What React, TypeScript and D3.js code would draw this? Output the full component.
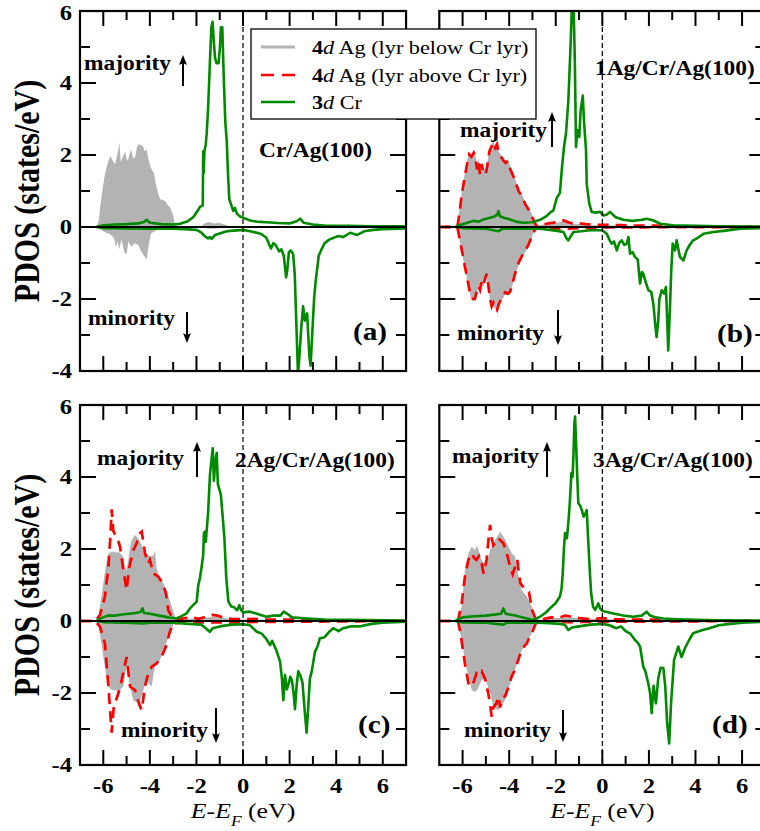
import React from "react";
import * as d3 from "d3";

// ---------------- data (E - E_F in eV, PDOS in states/eV) ----------------
const energyTickValues = [-6, -4, -2, 0, 2, 4, 6];
const dosTickValues = [-4, -2, 0, 2, 4, 6];
const systemNames = ["Cr/Ag(100)", "1Ag/Cr/Ag(100)", "2Ag/Cr/Ag(100)", "3Ag/Cr/Ag(100)"];
const panelLetters = ["(a)", "(b)", "(c)", "(d)"];
const legendSeries = ["Ag (lyr below Cr lyr)", "Ag (lyr above Cr lyr)", "Cr"];
const legendOrbitals = ["4", "4", "3"];

// Panel (a) Cr/Ag(100)
const agBelowUpA = [[-7,0],[-6.3,0],[-6.2,0.15],[-6.13,0.58],[-6.02,1.1],[-5.92,1.5],[-5.8,1.8],[-5.7,1.97],[-5.6,1.85],[-5.49,1.74],[-5.4,2.0],[-5.31,2.34],[-5.25,1.8],[-5.2,1.9],[-5.12,2.0],[-5.06,2.1],[-4.98,1.85],[-4.92,1.9],[-4.86,2.05],[-4.8,2.15],[-4.72,1.9],[-4.63,1.95],[-4.56,2.2],[-4.49,2.3],[-4.4,2.28],[-4.3,2.25],[-4.22,2.1],[-4.14,2.15],[-4.05,1.85],[-3.96,1.65],[-3.88,1.55],[-3.82,1.5],[-3.76,1.25],[-3.71,1.1],[-3.63,0.9],[-3.56,0.77],[-3.45,0.75],[-3.35,0.72],[-3.22,0.6],[-3.13,0.54],[-3.05,0.42],[-2.99,0.3],[-2.92,0.05],[-2.5,0.02],[-1.8,0.03],[-1.65,0.1],[-1.5,0.14],[-1.35,0.12],[-1.2,0.1],[-1.05,0.12],[-0.85,0.08],[-0.6,0.03],[0,0.02],[7,0]];
const agBelowDnA = [[-7,0],[-6.3,0],[-6.1,-0.08],[-5.9,-0.15],[-5.7,-0.2],[-5.55,-0.3],[-5.45,-0.55],[-5.38,-0.4],[-5.31,-0.62],[-5.22,-0.35],[-5.1,-0.7],[-5.0,-0.76],[-4.92,-0.4],[-4.8,-0.55],[-4.65,-0.45],[-4.5,-0.5],[-4.35,-0.7],[-4.25,-0.8],[-4.14,-0.9],[-4.05,-0.5],[-3.95,-0.18],[-3.7,-0.08],[-3.3,-0.04],[-2.9,0],[-1.7,0],[-1.5,-0.05],[-1.1,-0.04],[-0.8,0],[7,0]];
const crUpA = [[-6.3,0],[-6.0,0.05],[-5.5,0.07],[-5.0,0.08],[-4.5,0.1],[-4.25,0.14],[-4.14,0.2],[-4.0,0.12],[-3.5,0.08],[-3.0,0.07],[-2.7,0.09],[-2.4,0.15],[-2.13,0.28],[-1.95,0.45],[-1.85,0.56],[-1.73,0.6],[-1.71,2.1],[-1.69,1.5],[-1.66,2.1],[-1.6,2.3],[-1.56,2.6],[-1.5,3.3],[-1.42,4.6],[-1.36,5.55],[-1.31,5.7],[-1.25,5.1],[-1.2,4.7],[-1.14,4.55],[-1.05,4.55],[-0.99,5.0],[-0.95,5.55],[-0.89,5.55],[-0.83,4.2],[-0.76,2.9],[-0.7,2.4],[-0.64,1.4],[-0.59,0.77],[-0.5,0.6],[-0.42,0.45],[-0.35,0.53],[-0.27,0.38],[-0.15,0.3],[0,0.26],[0.3,0.18],[0.6,0.15],[1.0,0.13],[1.5,0.11],[2.0,0.1],[2.3,0.16],[2.45,0.23],[2.6,0.12],[3.0,0.07],[3.5,0.04],[4.5,0.03],[5.5,0.02],[7,0.02]];
const crDnA = [[-6.3,0],[-6.0,-0.03],[-5.0,-0.04],[-4.0,-0.05],[-3.0,-0.05],[-2.5,-0.06],[-2.0,-0.08],[-1.8,-0.15],[-1.65,-0.25],[-1.5,-0.32],[-1.42,-0.28],[-1.35,-0.33],[-1.2,-0.22],[-1.0,-0.18],[-0.7,-0.12],[-0.4,-0.1],[0,-0.08],[0.3,-0.12],[0.6,-0.16],[0.8,-0.2],[1.0,-0.3],[1.1,-0.45],[1.2,-0.6],[1.3,-0.45],[1.4,-0.5],[1.55,-0.68],[1.65,-0.62],[1.75,-0.8],[1.85,-1.4],[1.9,-1.2],[1.97,-0.7],[2.05,-0.65],[2.15,-0.75],[2.22,-1.3],[2.3,-2.9],[2.36,-4.1],[2.42,-3.6],[2.5,-2.8],[2.58,-2.2],[2.65,-2.6],[2.75,-2.4],[2.85,-3.6],[2.9,-3.85],[2.97,-3.0],[3.05,-2.0],[3.12,-1.5],[3.25,-0.8],[3.35,-0.65],[3.5,-0.45],[3.7,-0.35],[3.9,-0.3],[4.1,-0.25],[4.3,-0.28],[4.6,-0.16],[4.9,-0.22],[5.2,-0.12],[5.6,-0.08],[6.0,-0.06],[7,-0.04]];

// Panel (b) 1Ag/Cr/Ag(100)
const agBelowUpB = [[-7,0],[-6.24,0],[-6.14,0.5],[-6.04,0.95],[-5.93,1.4],[-5.82,1.8],[-5.72,2.08],[-5.62,2.0],[-5.52,2.1],[-5.45,2.0],[-5.38,1.7],[-5.32,1.9],[-5.25,1.55],[-5.18,1.8],[-5.1,1.6],[-5.02,1.55],[-4.95,1.75],[-4.85,2.15],[-4.75,2.3],[-4.68,2.4],[-4.6,2.25],[-4.52,2.35],[-4.45,2.1],[-4.35,2.0],[-4.25,1.9],[-4.15,1.85],[-4.05,1.88],[-3.95,1.68],[-3.85,1.5],[-3.75,1.35],[-3.6,1.08],[-3.45,0.9],[-3.3,0.68],[-3.18,0.55],[-3.05,0.4],[-2.95,0.22],[-2.85,0.05],[-2.7,0.05],[-2.4,0.08],[-2.1,0.1],[-1.85,0.13],[-1.65,0.16],[-1.5,0.13],[-1.3,0.09],[-1.0,0.08],[-0.5,0.05],[0.5,0.04],[1.5,0.03],[3,0.01],[7,0]];
const agBelowDnB = [[-7,0],[-6.24,0],[-6.12,-0.4],[-6.04,-0.68],[-5.93,-1.05],[-5.82,-1.42],[-5.72,-1.75],[-5.65,-1.97],[-5.55,-2.05],[-5.47,-2.05],[-5.4,-1.85],[-5.32,-1.7],[-5.25,-1.8],[-5.18,-1.58],[-5.1,-1.65],[-5.04,-1.5],[-4.97,-1.4],[-4.89,-1.7],[-4.82,-2.05],[-4.75,-2.25],[-4.68,-2.18],[-4.61,-2.25],[-4.52,-2.35],[-4.45,-2.2],[-4.38,-2.1],[-4.28,-2.0],[-4.18,-1.88],[-4.05,-1.9],[-3.96,-1.85],[-3.85,-1.6],[-3.75,-1.36],[-3.6,-1.06],[-3.45,-0.86],[-3.3,-0.7],[-3.18,-0.55],[-3.05,-0.35],[-2.96,-0.18],[-2.85,-0.05],[-2.5,-0.03],[-2.0,-0.03],[0,-0.01],[7,0]];
const agAboveUpB = [[-7,0],[-6.22,0.02],[-6.12,0.45],[-6.04,0.9],[-5.93,1.3],[-5.82,1.7],[-5.72,2.02],[-5.62,1.95],[-5.52,2.06],[-5.45,1.95],[-5.38,1.6],[-5.32,1.82],[-5.25,1.45],[-5.18,1.75],[-5.1,1.5],[-5.02,1.45],[-4.95,1.65],[-4.85,2.1],[-4.75,2.25],[-4.68,2.34],[-4.6,2.2],[-4.52,2.3],[-4.45,2.05],[-4.35,1.95],[-4.25,1.85],[-4.15,1.78],[-4.05,1.83],[-3.95,1.6],[-3.85,1.45],[-3.75,1.3],[-3.6,1.0],[-3.45,0.85],[-3.3,0.62],[-3.18,0.5],[-3.05,0.35],[-2.95,0.18],[-2.85,0.05],[-2.7,0.06],[-2.4,0.09],[-2.1,0.12],[-1.85,0.15],[-1.65,0.18],[-1.5,0.14],[-1.3,0.1],[-1.0,0.1],[-0.7,0.08],[-0.3,0.06],[0.2,0.06],[0.8,0.05],[1.4,0.04],[2.2,0.04],[3.0,0.02],[4,0.01],[7,0]];
const agAboveDnB = [[-7,0],[-6.22,-0.02],[-6.12,-0.35],[-6.04,-0.62],[-5.93,-1.0],[-5.82,-1.36],[-5.72,-1.7],[-5.65,-1.92],[-5.55,-2.0],[-5.47,-2.0],[-5.4,-1.8],[-5.32,-1.64],[-5.25,-1.75],[-5.18,-1.5],[-5.1,-1.6],[-5.04,-1.45],[-4.97,-1.3],[-4.89,-1.64],[-4.82,-2.0],[-4.75,-2.2],[-4.68,-2.1],[-4.61,-2.2],[-4.52,-2.3],[-4.45,-2.15],[-4.38,-2.05],[-4.28,-1.95],[-4.18,-1.82],[-4.05,-1.85],[-3.96,-1.8],[-3.85,-1.55],[-3.75,-1.3],[-3.6,-1.0],[-3.45,-0.8],[-3.3,-0.65],[-3.18,-0.5],[-3.05,-0.3],[-2.96,-0.15],[-2.85,-0.04],[-2.5,-0.03],[-1.6,-0.05],[-1.0,-0.03],[0,-0.01],[7,0]];
const crUpB = [[-6.3,0],[-6.25,0.03],[-5.9,0.1],[-5.54,0.17],[-5.3,0.15],[-5.1,0.21],[-4.82,0.26],[-4.6,0.3],[-4.5,0.36],[-4.46,0.44],[-4.4,0.3],[-4.2,0.25],[-3.96,0.21],[-3.7,0.15],[-3.39,0.12],[-3.0,0.13],[-2.67,0.2],[-2.4,0.3],[-2.24,0.4],[-2.1,0.46],[-1.96,0.8],[-1.82,0.95],[-1.74,1.6],[-1.65,2.2],[-1.56,2.6],[-1.46,3.5],[-1.36,5.1],[-1.3,6.3],[-1.24,6.3],[-1.18,4.6],[-1.13,2.22],[-1.07,2.69],[-0.99,2.5],[-0.93,3.24],[-0.84,3.65],[-0.78,2.87],[-0.7,2.13],[-0.67,1.2],[-0.56,0.65],[-0.46,0.42],[-0.3,0.4],[-0.1,0.42],[0.05,0.32],[0.2,0.35],[0.33,0.42],[0.55,0.28],[0.9,0.2],[1.3,0.17],[1.7,0.2],[1.9,0.23],[2.2,0.18],[2.48,0.09],[3.05,0.05],[4,0.03],[5,0.02],[7,0.01]];
const crDnB = [[-6.3,0],[-6.0,-0.03],[-5.0,-0.05],[-4.46,-0.12],[-4.3,-0.05],[-3.0,-0.04],[-2.67,-0.05],[-2.0,-0.1],[-1.67,-0.14],[-1.55,-0.3],[-1.46,-0.37],[-1.35,-0.25],[-1.24,-0.14],[-0.9,-0.12],[-0.53,-0.09],[0,-0.09],[0.19,-0.19],[0.3,-0.35],[0.4,-0.46],[0.5,-0.4],[0.62,-0.65],[0.72,-0.45],[0.83,-0.37],[0.95,-0.5],[1.05,-0.46],[1.12,-0.28],[1.19,-0.74],[1.3,-0.7],[1.4,-0.83],[1.52,-0.9],[1.62,-1.57],[1.7,-1.25],[1.76,-1.3],[1.88,-1.57],[1.98,-1.76],[2.1,-1.8],[2.19,-2.13],[2.27,-2.7],[2.33,-3.06],[2.4,-2.6],[2.45,-2.0],[2.55,-1.76],[2.65,-1.85],[2.73,-1.67],[2.78,-2.5],[2.83,-3.43],[2.9,-2.31],[2.96,-1.2],[3.02,-0.46],[3.12,-0.65],[3.19,-0.37],[3.33,-0.83],[3.48,-0.93],[3.62,-0.65],[3.75,-0.5],[3.9,-0.37],[4.1,-0.3],[4.34,-0.19],[4.77,-0.14],[5.3,-0.1],[5.92,-0.05],[7,-0.03]];

// Panel (c) 2Ag/Cr/Ag(100)
const agBelowUpC = [[-7,0],[-6.3,0],[-6.21,0.12],[-6.1,0.6],[-6.0,1.05],[-5.9,1.5],[-5.78,1.88],[-5.65,1.92],[-5.57,1.93],[-5.45,1.9],[-5.35,1.92],[-5.28,1.88],[-5.14,1.79],[-5.06,1.5],[-5.0,1.4],[-4.92,1.75],[-4.85,2.05],[-4.78,2.25],[-4.64,2.39],[-4.5,2.3],[-4.35,2.1],[-4.25,1.95],[-4.14,1.88],[-4.0,1.8],[-3.92,1.79],[-3.83,1.85],[-3.78,1.97],[-3.72,1.5],[-3.64,1.32],[-3.5,1.15],[-3.42,1.05],[-3.25,0.77],[-3.06,0.4],[-2.92,0.12],[-2.8,0.02],[-2.4,0.05],[-2.0,0.08],[-1.6,0.1],[-1.2,0.12],[-0.8,0.08],[-0.3,0.05],[0.5,0.04],[1.5,0.03],[3,0.01],[7,0]];
const agBelowDnC = [[-7,0],[-6.3,0],[-6.21,-0.11],[-6.1,-0.55],[-6.0,-1.0],[-5.9,-1.4],[-5.78,-1.82],[-5.64,-1.92],[-5.45,-1.93],[-5.28,-1.92],[-5.14,-1.82],[-5.06,-1.5],[-5.0,-1.27],[-4.93,-1.5],[-4.85,-1.82],[-4.71,-2.21],[-4.5,-2.29],[-4.35,-2.1],[-4.25,-1.85],[-4.14,-1.64],[-4.02,-1.75],[-3.92,-1.82],[-3.85,-1.5],[-3.78,-1.27],[-3.57,-1.08],[-3.35,-0.71],[-3.14,-0.34],[-2.96,-0.06],[-2.8,0],[7,0]];
const agAboveUpC = [[-7,0],[-6.35,0],[-6.14,0.17],[-5.93,0.68],[-5.78,1.5],[-5.7,2.3],[-5.64,3.1],[-5.57,2.5],[-5.45,2.34],[-5.35,2.2],[-5.28,2.06],[-5.14,1.42],[-5.0,0.86],[-4.88,1.5],[-4.71,1.97],[-4.57,2.16],[-4.42,2.44],[-4.35,2.48],[-4.28,2.2],[-4.21,1.88],[-4.07,1.6],[-4.0,1.7],[-3.85,1.32],[-3.64,1.23],[-3.45,1.05],[-3.31,0.77],[-3.21,0.3],[-3.06,0.12],[-2.85,0.03],[-2.5,0.08],[-2.2,0.1],[-1.9,0.06],[-1.6,0.12],[-1.3,0.17],[-1.1,0.15],[-0.8,0.08],[-0.4,0.05],[0,0.05],[0.5,0.06],[1.0,0.04],[2.0,0.04],[3.0,0.02],[7,0]];
const agAboveDnC = [[-7,0],[-6.35,0],[-6.14,-0.16],[-5.93,-0.62],[-5.78,-1.82],[-5.64,-3.1],[-5.55,-2.38],[-5.35,-2.0],[-5.21,-1.64],[-5.0,-1.0],[-4.85,-1.82],[-4.64,-1.92],[-4.42,-2.38],[-4.35,-2.47],[-4.21,-1.82],[-4.07,-1.45],[-3.92,-1.27],[-3.71,-1.18],[-3.5,-1.0],[-3.31,-0.71],[-3.16,-0.34],[-3.0,-0.06],[-2.5,-0.04],[-1.0,-0.04],[0,-0.03],[7,0]];
const crUpC = [[-6.3,0],[-6.1,0.08],[-5.8,0.15],[-5.5,0.15],[-5.2,0.18],[-4.9,0.2],[-4.6,0.22],[-4.4,0.25],[-4.32,0.35],[-4.25,0.22],[-4.0,0.2],[-3.6,0.15],[-3.2,0.1],[-2.85,0.07],[-2.6,0.15],[-2.43,0.21],[-2.28,0.35],[-2.14,0.44],[-1.99,0.54],[-1.92,1.0],[-1.85,1.19],[-1.78,1.5],[-1.71,1.83],[-1.68,2.44],[-1.64,2.48],[-1.6,2.2],[-1.55,2.6],[-1.5,3.0],[-1.42,4.06],[-1.35,4.5],[-1.3,4.8],[-1.25,3.9],[-1.2,4.4],[-1.13,4.67],[-1.08,3.8],[-1.0,3.62],[-0.95,3.5],[-0.87,2.87],[-0.8,2.3],[-0.72,1.2],[-0.63,0.54],[-0.5,0.4],[-0.38,0.38],[-0.25,0.3],[-0.16,0.44],[-0.08,0.3],[0,0.24],[0.3,0.26],[0.6,0.2],[1.0,0.12],[1.3,0.15],[1.6,0.15],[1.75,0.26],[1.9,0.2],[2.1,0.1],[2.75,0.07],[3.5,0.04],[4.5,0.03],[7,0.01]];
const crDnC = [[-6.3,0],[-6.0,-0.03],[-5.0,-0.05],[-4.3,-0.07],[-4.0,-0.05],[-3.0,-0.05],[-2.3,-0.08],[-1.8,-0.1],[-1.6,-0.2],[-1.43,-0.3],[-1.3,-0.2],[-1.0,-0.15],[-0.5,-0.1],[0,-0.09],[0.3,-0.12],[0.59,-0.3],[0.8,-0.35],[1.0,-0.5],[1.16,-0.67],[1.25,-0.55],[1.45,-0.85],[1.59,-1.13],[1.67,-1.6],[1.73,-2.2],[1.8,-1.5],[1.88,-1.9],[1.95,-1.76],[2.03,-1.55],[2.1,-1.65],[2.17,-2.0],[2.23,-2.45],[2.3,-1.8],[2.37,-1.4],[2.45,-1.5],[2.55,-1.7],[2.65,-2.5],[2.73,-3.1],[2.8,-2.4],[2.87,-1.6],[2.95,-1.4],[3.09,-0.85],[3.2,-0.7],[3.3,-0.48],[3.5,-0.45],[3.7,-0.3],[3.88,-0.2],[4.1,-0.28],[4.3,-0.2],[4.6,-0.15],[5.0,-0.15],[5.5,-0.08],[6.0,-0.05],[7,-0.02]];

// Panel (d) 3Ag/Cr/Ag(100)
const agBelowUpD = [[-7,0],[-6.2,0],[-6.04,0.4],[-5.9,1.42],[-5.75,1.88],[-5.61,2.06],[-5.47,1.97],[-5.37,2.1],[-5.18,1.7],[-5.04,1.5],[-4.92,1.7],[-4.82,1.97],[-4.61,2.25],[-4.45,2.4],[-4.39,2.48],[-4.25,2.35],[-4.1,2.16],[-3.89,1.88],[-3.75,1.8],[-3.6,1.23],[-3.46,0.86],[-3.25,0.68],[-3.03,0.4],[-2.82,0.07],[-2.6,0.02],[-2.0,0.08],[-1.5,0.1],[-1.0,0.08],[0,0.05],[1.0,0.04],[2.0,0.03],[3.0,0.01],[7,0]];
const agBelowDnD = [[-7,0],[-6.2,0],[-6.04,-0.53],[-5.9,-1.08],[-5.75,-1.55],[-5.61,-1.92],[-5.47,-1.97],[-5.37,-1.92],[-5.18,-1.64],[-5.04,-1.6],[-4.92,-1.8],[-4.82,-2.0],[-4.68,-2.38],[-4.55,-2.45],[-4.46,-2.47],[-4.3,-2.35],[-4.1,-2.1],[-3.96,-1.73],[-3.75,-1.36],[-3.52,-0.9],[-3.3,-0.62],[-3.1,-0.43],[-2.88,-0.16],[-2.75,0],[7,0]];
const agAboveUpD = [[-7,0],[-6.2,0],[-6.04,0.49],[-5.9,1.23],[-5.75,1.7],[-5.61,1.88],[-5.5,1.75],[-5.4,1.7],[-5.3,1.8],[-5.18,1.6],[-5.1,1.32],[-4.97,1.7],[-4.88,2.3],[-4.82,2.67],[-4.75,2.3],[-4.68,2.1],[-4.6,2.16],[-4.5,2.3],[-4.39,2.25],[-4.25,2.16],[-4.1,1.88],[-3.96,1.5],[-3.85,1.3],[-3.75,1.5],[-3.65,1.7],[-3.58,1.3],[-3.52,1.05],[-3.3,0.86],[-3.15,0.8],[-3.02,0.31],[-2.85,0.03],[-2.5,0.06],[-2.2,0.1],[-1.9,0.08],[-1.6,0.15],[-1.3,0.12],[-1.0,0.08],[-0.5,0.05],[0,0.08],[0.5,0.05],[1.0,0.04],[2.0,0.04],[3.0,0.02],[7,0]];
const agAboveDnD = [[-7,0],[-6.2,0],[-6.1,-0.3],[-5.9,-1.18],[-5.75,-1.73],[-5.61,-1.82],[-5.5,-1.65],[-5.4,-1.45],[-5.3,-1.5],[-5.18,-1.4],[-5.04,-1.6],[-4.9,-2.0],[-4.82,-2.3],[-4.75,-2.66],[-4.68,-2.4],[-4.55,-2.29],[-4.45,-2.1],[-4.39,-2.4],[-4.3,-2.2],[-4.15,-2.05],[-4.02,-1.82],[-3.9,-1.55],[-3.75,-1.35],[-3.7,-1.27],[-3.52,-0.9],[-3.35,-0.7],[-3.24,-0.62],[-3.1,-0.4],[-3.02,-0.34],[-2.85,-0.05],[-2.5,-0.04],[0,-0.02],[7,0]];
const crUpD = [[-6.3,0],[-6.25,0.03],[-6.0,0.1],[-5.5,0.13],[-5.0,0.15],[-4.6,0.18],[-4.35,0.2],[-4.25,0.35],[-4.15,0.2],[-3.8,0.16],[-3.4,0.1],[-2.96,0.03],[-2.67,0.12],[-2.4,0.25],[-2.25,0.35],[-2.0,0.5],[-1.82,0.68],[-1.75,0.9],[-1.7,1.32],[-1.65,2.0],[-1.6,2.44],[-1.52,2.3],[-1.45,2.8],[-1.39,3.36],[-1.33,4.1],[-1.28,4.0],[-1.24,4.6],[-1.2,5.5],[-1.17,5.68],[-1.12,4.8],[-1.07,3.9],[-1.03,3.27],[-0.95,3.2],[-0.88,3.08],[-0.8,2.9],[-0.72,3.0],[-0.67,3.08],[-0.6,2.16],[-0.53,1.3],[-0.48,0.77],[-0.4,0.4],[-0.31,0.31],[-0.17,0.49],[-0.1,0.35],[0,0.28],[0.47,0.21],[0.9,0.15],[1.33,0.12],[1.7,0.15],[1.9,0.26],[2.05,0.15],[2.3,0.1],[2.62,0.07],[3.2,0.05],[4.05,0.03],[5.0,0.02],[7,0.01]];
const crDnD = [[-6.3,0],[-6.0,-0.04],[-5.0,-0.05],[-4.25,-0.1],[-4.1,-0.05],[-3.0,-0.04],[-2.3,-0.06],[-1.8,-0.08],[-1.6,-0.11],[-1.46,-0.25],[-1.3,-0.18],[-1.0,-0.15],[-0.5,-0.1],[0,-0.08],[0.3,-0.12],[0.6,-0.2],[0.8,-0.15],[1.0,-0.28],[1.2,-0.35],[1.4,-0.53],[1.52,-0.6],[1.62,-0.71],[1.76,-1.27],[1.85,-1.4],[1.97,-1.73],[2.05,-2.0],[2.12,-2.56],[2.2,-1.8],[2.3,-2.29],[2.4,-1.6],[2.5,-1.3],[2.62,-1.31],[2.7,-1.8],[2.78,-2.8],[2.87,-3.4],[2.95,-2.3],[3.08,-1.08],[3.26,-0.71],[3.4,-1.0],[3.55,-0.75],[3.75,-0.5],[3.9,-0.34],[4.3,-0.25],[4.6,-0.2],[5.0,-0.12],[5.5,-0.08],[6.0,-0.05],[7,-0.02]];

// ---------------- styling / layout ----------------
const W = 760, H = 831;
const SX = 1.17;
const FONT = "'Liberation Serif','Times New Roman',Times,serif";
const GRAY = "#b3b3b3";
const RED = "#ff0000";
const GREEN = "#008a00";
const PW = 14 * 23.29;

const panels = [
  { id: "a", left: 80, top: 11, name: systemNames[0], letter: panelLetters[0], gUp: agBelowUpA, gDn: agBelowDnA, rUp: null, rDn: null, cUp: crUpA, cDn: crDnA, yLabels: true, xLabels: false,
    maj: [84, 70, 183, 55, 86], min: [88, 325, 187, 312, 343], nameAt: [259, 157], letterAt: [353, 340] },
  { id: "b", left: 439.3, top: 11, name: systemNames[1], letter: panelLetters[1], gUp: agBelowUpB, gDn: agBelowDnB, rUp: agAboveUpB, rDn: agAboveDnB, cUp: crUpB, cDn: crDnB, yLabels: false, xLabels: false,
    maj: [460, 137, 552, 112, 147], min: [457, 340, 558, 310, 345], nameAt: [595, 75], letterAt: [717, 342] },
  { id: "c", left: 80, top: 405, name: systemNames[2], letter: panelLetters[2], gUp: agBelowUpC, gDn: agBelowDnC, rUp: agAboveUpC, rDn: agAboveDnC, cUp: crUpC, cDn: crDnC, yLabels: true, xLabels: true,
    maj: [97, 465, 197, 442, 477], min: [121, 737, 216, 708, 743], nameAt: [235, 467], letterAt: [358, 733] },
  { id: "d", left: 439.3, top: 405, name: systemNames[3], letter: panelLetters[3], gUp: agBelowUpD, gDn: agBelowDnD, rUp: agAboveUpD, rDn: agAboveDnD, cUp: crUpD, cDn: crDnD, yLabels: false, xLabels: true,
    maj: [452, 463, 547, 442, 477], min: [464, 737, 563, 710, 742], nameAt: [593, 467], letterAt: [712, 733] },
];

function T({ x, y, size, weight = "bold", anchor = "start", rotate = 0, children, dy }: any) {
  return (
    <text
      transform={`translate(${x},${y}) scale(${SX},1)${rotate ? ` rotate(${rotate})` : ""}`}
      fontSize={size}
      fontWeight={weight}
      textAnchor={anchor}
      fontFamily={FONT}
      dy={dy}
      fill="#000"
    >
      {children}
    </text>
  );
}

function Arrow({ x, tail, tip }: { x: number; tail: number; tip: number }) {
  const dir = tip < tail ? 1 : -1;
  const hb = tip + dir * 10;
  return (
    <g>
      <line x1={x} x2={x} y1={tail} y2={tip + dir * 4} stroke="#000" strokeWidth={2} />
      <path d={`M${x},${tip} L${x - 4},${hb} Q${x},${hb - dir * 3} ${x + 4},${hb} Z`} fill="#000" />
    </g>
  );
}

function Panel({ p }: any) {
  const x = d3.scaleLinear().domain([-7, 7]).range([p.left, p.left + PW]);
  const y = d3.scaleLinear().domain([-4, 6]).range([p.top + 360, p.top]);
  const line = d3.line<number[]>().x((d) => x(d[0])).y((d) => y(d[1])).curve(d3.curveLinear);
  const area = d3.area<number[]>().x((d) => x(d[0])).y0(y(0)).y1((d) => y(d[1])).curve(d3.curveLinear);
  const L = p.left, R = p.left + PW, TOP = p.top, B = p.top + 360;
  const xMinor = d3.range(-6, 7, 1);
  const yMinor = d3.range(-3, 6, 1);
  return (
    <g>
      <defs>
        <clipPath id={`clip-${p.id}`}>
          <rect x={L} y={TOP} width={PW} height={360} />
        </clipPath>
      </defs>
      <g clipPath={`url(#clip-${p.id})`}>
        <path d={area(p.gUp) || ""} fill={GRAY} />
        <path d={area(p.gDn) || ""} fill={GRAY} />
        {p.rUp && <path d={line(p.rUp) || ""} fill="none" stroke={RED} strokeWidth={2.7} strokeDasharray="11,7" />}
        {p.rDn && <path d={line(p.rDn) || ""} fill="none" stroke={RED} strokeWidth={2.7} strokeDasharray="11,7" />}
        <path d={line(p.cUp) || ""} fill="none" stroke={GREEN} strokeWidth={2.6} strokeLinejoin="round" />
        <path d={line(p.cDn) || ""} fill="none" stroke={GREEN} strokeWidth={2.6} strokeLinejoin="round" />
        <line x1={L} x2={R} y1={y(0)} y2={y(0)} stroke="#000" strokeWidth={1.8} />
        <line x1={x(0)} x2={x(0)} y1={TOP} y2={B} stroke="#000" strokeWidth={1.2} strokeDasharray="5,3" />
      </g>
      {xMinor.map((e: number) => {
        const len = e % 2 === 0 ? 15 : 9;
        return (
          <g key={`xt${e}`}>
            <line x1={x(e)} x2={x(e)} y1={B} y2={B - len} stroke="#000" strokeWidth={2} />
            <line x1={x(e)} x2={x(e)} y1={TOP} y2={TOP + len} stroke="#000" strokeWidth={2} />
          </g>
        );
      })}
      {yMinor.map((v: number) => {
        const len = v % 2 === 0 ? 16 : 10;
        return (
          <g key={`yt${v}`}>
            <line x1={L} x2={L + len} y1={y(v)} y2={y(v)} stroke="#000" strokeWidth={2} />
            <line x1={R} x2={R - len} y1={y(v)} y2={y(v)} stroke="#000" strokeWidth={2} />
          </g>
        );
      })}
      <rect x={L} y={TOP} width={PW} height={360} fill="none" stroke="#000" strokeWidth={2.2} />
      {p.yLabels && dosTickValues.map((v: number) => (
        <T key={`yl${v}`} x={L - 8} y={y(v) + (v === 6 ? 2 : 0)} size={21} anchor="end" dy="0.35em">{v}</T>
      ))}
      {p.xLabels && energyTickValues.map((e: number) => (
        <T key={`xl${e}`} x={x(e)} y={B + 28} size={21} anchor="middle">{e}</T>
      ))}
      {p.xLabels && (
        <text
          transform={`translate(${x(0)},${B + 53}) scale(${SX},1)`}
          fontSize={22}
          fontFamily={FONT}
          textAnchor="middle"
        >
          <tspan fontStyle="italic">E</tspan>
          <tspan>-</tspan>
          <tspan fontStyle="italic">E</tspan>
          <tspan fontStyle="italic" fontSize={15} dy={8}>F</tspan>
          <tspan dy={-8}> (eV)</tspan>
        </text>
      )}
      <T x={p.maj[0]} y={p.maj[1]} size={20}>majority</T>
      <Arrow x={p.maj[2]} tail={p.maj[4]} tip={p.maj[3]} />
      <T x={p.min[0]} y={p.min[1]} size={20}>minority</T>
      <Arrow x={p.min[2]} tail={p.min[3]} tip={p.min[4]} />
      <T x={p.nameAt[0]} y={p.nameAt[1]} size={20}>{p.name}</T>
      <T x={p.letterAt[0]} y={p.letterAt[1]} size={25}>{p.letter}</T>
    </g>
  );
}

function Legend() {
  const x0 = 251, y0 = 29, w = 285, h = 90;
  const rows = [47, 75, 102];
  return (
    <g>
      <rect x={x0} y={y0} width={w} height={h} fill="#fff" stroke="#000" strokeWidth={1.3} />
      <line x1={261} x2={295} y1={rows[0]} y2={rows[0]} stroke={GRAY} strokeWidth={3} />
      <line x1={261} x2={295} y1={rows[1]} y2={rows[1]} stroke={RED} strokeWidth={2.7} strokeDasharray="13,8" />
      <line x1={261} x2={295} y1={rows[2]} y2={rows[2]} stroke={GREEN} strokeWidth={2.6} />
      {legendSeries.map((s, i) => (
        <text key={s} transform={`translate(312,${rows[i] + 6.5}) scale(${SX},1)`} fontSize={19} fontFamily={FONT}>
          <tspan fontWeight="bold">{legendOrbitals[i]}</tspan>
          <tspan fontStyle="italic">d</tspan>
          <tspan>{" " + s}</tspan>
        </text>
      ))}
    </g>
  );
}

export default function App() {
  return (
    <div style={{ position: "absolute", left: 0, top: 0, width: W, height: H, background: "#fff" }}>
      <svg width={W} height={H} viewBox={`0 0 ${W} ${H}`} style={{ display: "block" }}>
        <rect x={0} y={0} width={W} height={H} fill="#fff" />
        {panels.map((p) => (
          <Panel key={p.id} p={p} />
        ))}
        {[191, 585].map((cy) => (
          <text
            key={cy}
            transform={`translate(39,${cy}) scale(${SX},1) rotate(-90)`}
            fontSize={30}
            fontWeight="bold"
            fontFamily={FONT}
            textAnchor="middle"
          >
            PDOS (states/eV)
          </text>
        ))}
        <Legend />
      </svg>
    </div>
  );
}
